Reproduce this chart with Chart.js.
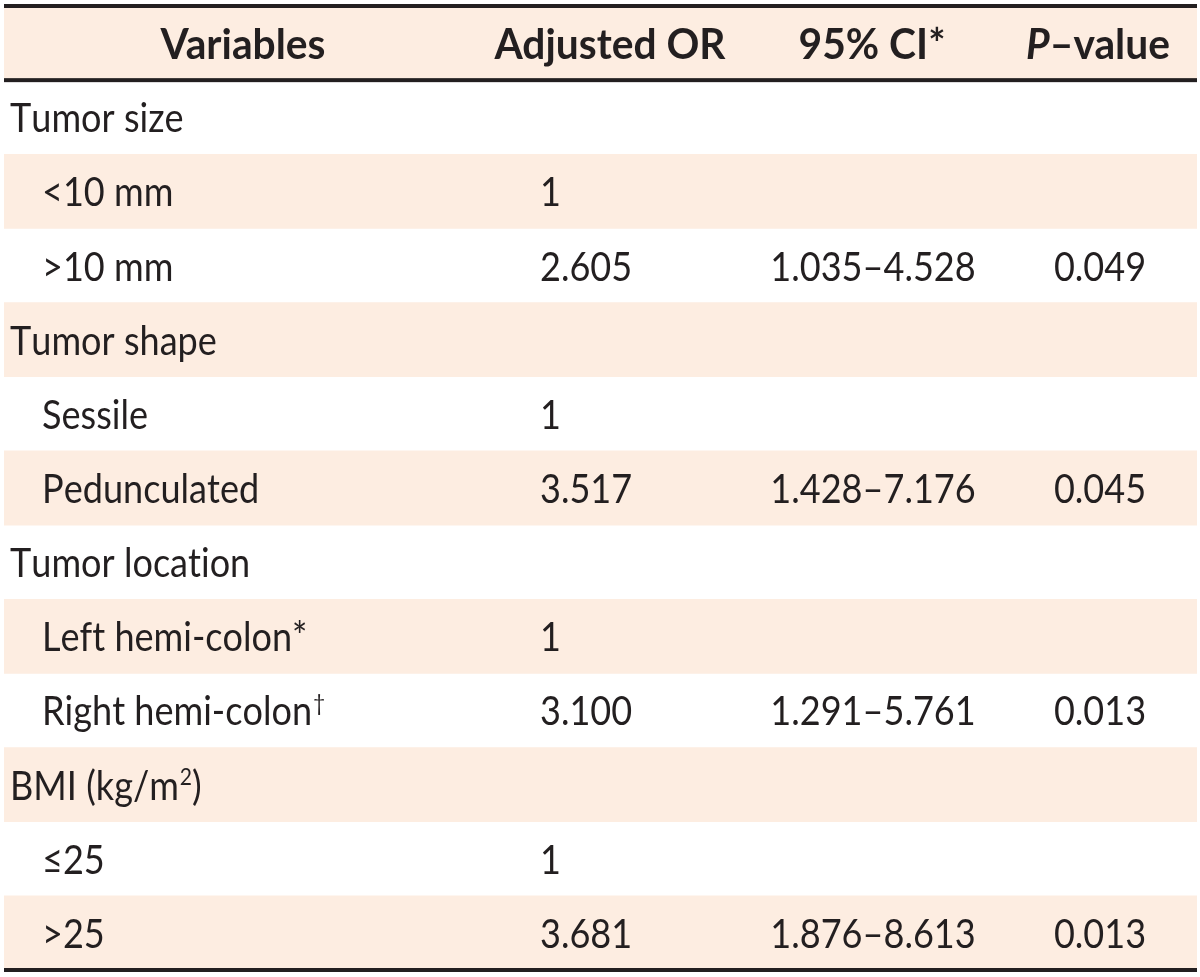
<!DOCTYPE html>
<html>
<head>
<meta charset="utf-8">
<script src="https://cdn.jsdelivr.net/npm/chart.js@4.4.1/dist/chart.umd.min.js"></script>
<style>
  html, body { margin: 0; padding: 0; background: #ffffff; }
  #wrap { width: 1200px; height: 977px; }
</style>
</head>
<body>
<div id="wrap"><canvas id="table_chart"></canvas></div>
<script>
// table content, one entry per body row ('^' marks the next char as superscript)
var headers = ['Variables', 'Adjusted OR', '95% CI*', 'P-value'];
var variables = ['Tumor size', '<10 mm', '>10 mm', 'Tumor shape', 'Sessile', 'Pedunculated',
                 'Tumor location', 'Left hemi-colon*', 'Right hemi-colon^\u2020', 'BMI (kg/m^2)', '\u226425', '>25'];
var isGroup = [true, false, false, true, false, false, true, false, false, true, false, false];
var adjustedOR = ['', '1', '2.605', '', '1', '3.517', '', '1', '3.100', '', '1', '3.681'];
var ci95 = ['', '', '1.035\u20134.528', '', '', '1.428\u20137.176', '', '', '1.291\u20135.761', '', '', '1.876\u20138.613'];
var pValue = ['', '', '0.049', '', '', '0.045', '', '', '0.013', '', '', '0.013'];

var ink = '#231f20';
var peach = '#fdede1';
var bodyFont = 'Lato';
var X_MIN = 4, X_MAX = 1197;
var BODY = { size: 41, weight: 'normal', sx: 0.88 };
var HEAD = { size: 42, weight: 'bold', sx: 0.97 };

var rowLabels = ['header'].concat(variables);
var bands = rowLabels.map(function(r, i){ return i % 2 === 0 ? [X_MIN, X_MAX] : null; });

// draws text squeezed horizontally by f.sx, returns drawn width
function squeezed(ctx, text, x, y, f, align, style){
    ctx.font = (style || '') + ' ' + f.weight + ' ' + f.size + 'px ' + bodyFont;
    var w = ctx.measureText(text).width * f.sx;
    var left = align === 'center' ? x - w / 2 : (align === 'right' ? x - w : x);
    ctx.save();
    ctx.translate(left, y);
    ctx.scale(f.sx, 1);
    ctx.textAlign = 'left';
    ctx.fillText(text, 0, 0);
    ctx.restore();
    return w;
}

function drawRich(ctx, text, x, y, f){
    var cx = x;
    for (var i = 0; i < text.length; i++){
        if (text[i] === '^' && i + 1 < text.length){
            var sf = { size: Math.round(f.size * 0.58), weight: f.weight, sx: f.sx };
            cx += squeezed(ctx, text[i+1], cx + 1, y - f.size * 0.36, sf, 'left') + 1;
            i++;
        } else {
            cx += squeezed(ctx, text[i], cx, y, f, 'left');
        }
    }
}

var tablePlugin = {
    id: 'tableText',
    afterDatasetsDraw: function(chart){
        var ctx = chart.ctx;
        var xs = chart.scales.x, ys = chart.scales.y;
        var area = chart.chartArea;
        ctx.save();
        ctx.fillStyle = ink;
        ctx.textBaseline = 'alphabetic';

        // header
        var hy = ys.getPixelForValue(0) + 16;
        squeezed(ctx, headers[0], xs.getPixelForValue(243), hy, HEAD, 'center');
        squeezed(ctx, headers[1], xs.getPixelForValue(610), hy, HEAD, 'center');
        squeezed(ctx, headers[2], xs.getPixelForValue(872), hy, HEAD, 'center');
        // P-value with italic P
        ctx.font = 'italic bold ' + HEAD.size + 'px ' + bodyFont;
        var iw = ctx.measureText('P').width * HEAD.sx;
        ctx.font = 'bold ' + HEAD.size + 'px ' + bodyFont;
        var rest = '\u2013value';
        var rw = ctx.measureText(rest).width * HEAD.sx;
        var start = xs.getPixelForValue(1098) - (iw + rw) / 2;
        squeezed(ctx, 'P', start, hy, HEAD, 'left', 'italic');
        squeezed(ctx, rest, start + iw, hy, HEAD, 'left');

        // body rows
        variables.forEach(function(v, i){
            var y = ys.getPixelForValue(i + 1) + 15;
            drawRich(ctx, v, xs.getPixelForValue(isGroup[i] ? 10 : 42), y, BODY);
            squeezed(ctx, adjustedOR[i], xs.getPixelForValue(540), y, BODY, 'left');
            squeezed(ctx, ci95[i], xs.getPixelForValue(873), y, BODY, 'center');
            squeezed(ctx, pValue[i], xs.getPixelForValue(1100), y, BODY, 'center');
        });

        // rules
        var mid = (ys.getPixelForValue(0) + ys.getPixelForValue(1)) / 2;
        ctx.fillRect(area.left, area.top - 2, area.right - area.left, 4);
        ctx.fillRect(area.left, mid - 2, area.right - area.left, 4);
        ctx.fillRect(area.left, area.bottom - 2, area.right - area.left, 4);
        ctx.restore();
    }
};

new Chart(document.getElementById('table_chart'), {
    type: 'bar',
    data: {
        labels: rowLabels,
        datasets: [{
            data: bands,
            backgroundColor: peach,
            borderWidth: 0,
            barPercentage: 1,
            categoryPercentage: 1
        }]
    },
    options: {
        indexAxis: 'y',
        responsive: true,
        maintainAspectRatio: false,
        animation: false,
        layout: { padding: { left: X_MIN, right: 1200 - X_MAX, top: 6, bottom: 7 } },
        plugins: { legend: { display: false }, tooltip: { enabled: false } },
        scales: {
            x: { type: 'linear', min: X_MIN, max: X_MAX, display: false },
            y: { type: 'category', display: false }
        }
    },
    plugins: [tablePlugin]
});
</script>
</body>
</html>
